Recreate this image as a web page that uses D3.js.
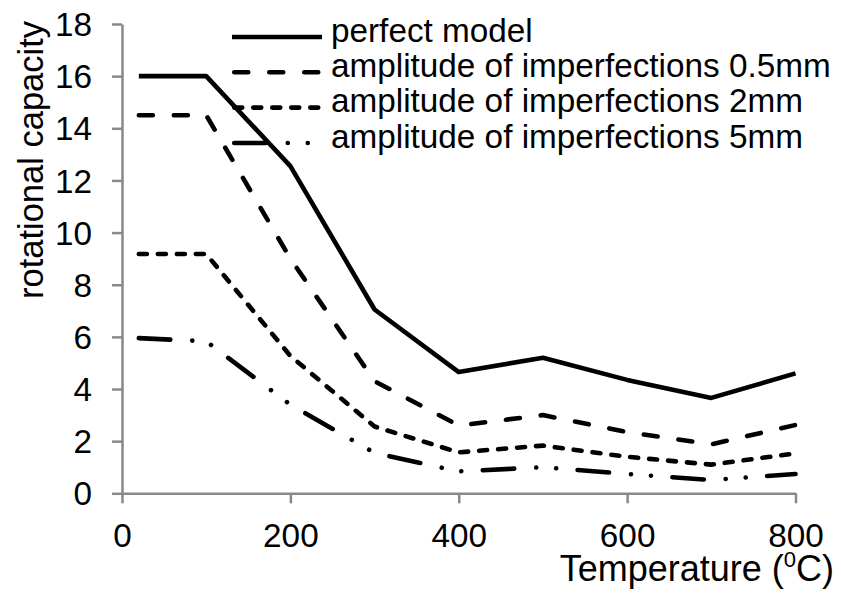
<!DOCTYPE html>
<html>
<head>
<meta charset="utf-8">
<script src="https://cdn.jsdelivr.net/npm/d3@7"></script>
<style>
  html, body { margin: 0; padding: 0; background: #fff; }
  svg { display: block; font-family: "Liberation Sans", Arial, sans-serif; }
</style>
</head>
<body>
<svg id="chart" width="841" height="594"></svg>
<script>
// ---- data ----
const temps = [20, 100, 200, 300, 400, 500, 600, 700, 800];
const perfectModel = [16, 16, 12.55, 7.05, 4.65, 5.2, 4.35, 3.66, 4.6];
const amp05 = [14.5, 14.5, 9.0, 4.3, 2.6, 3.0, 2.35, 1.88, 2.62];
const amp2 = [9.18, 9.18, 5.27, 2.56, 1.57, 1.83, 1.4, 1.1, 1.53];
const amp5 = [5.95, 5.83, 3.4, 1.55, 0.84, 1.0, 0.74, 0.51, 0.74];
const seriesNames = ["perfect model", "amplitude of imperfections 0.5mm", "amplitude of imperfections 2mm", "amplitude of imperfections 5mm"];
const xTicks = [0, 200, 400, 600, 800];
const yTicks = [0, 2, 4, 6, 8, 10, 12, 14, 16, 18];

// ---- styles ----
const dashes = [null, "14,21", "8,11", "31.5,22,0.01,20,0.01,21.5"];
const seriesValues = [perfectModel, amp05, amp2, amp5];

const svg = d3.select("#chart");
const x = d3.scaleLinear().domain([0, 800]).range([122, 795.5]);
const y = d3.scaleLinear().domain([0, 18]).range([493.3, 24]);
const axisColor = "#898989";
const fontSize = 33.3;

// y axis
const gy = svg.append("g").attr("transform", "translate(122,0)")
  .call(d3.axisLeft(y).tickValues(yTicks).tickSize(10).tickSizeOuter(0).tickFormat(d3.format("d")));
gy.select(".domain").attr("stroke", axisColor).attr("stroke-width", 2.5);
gy.selectAll(".tick line").attr("stroke", axisColor).attr("stroke-width", 2.5);
gy.selectAll(".tick text").attr("x", -30).attr("dy", "0.35em")
  .attr("font-size", fontSize).attr("fill", "#000").attr("font-family", "Liberation Sans, Arial, sans-serif");

// x axis
const gx = svg.append("g").attr("transform", "translate(0,493.3)")
  .call(d3.axisBottom(x).tickValues(xTicks).tickSize(10).tickSizeOuter(0).tickFormat(d3.format("d")));
gx.select(".domain").attr("stroke", axisColor).attr("stroke-width", 2.5);
gx.selectAll(".tick line").attr("stroke", axisColor).attr("stroke-width", 2.5);
gx.selectAll(".tick text").attr("y", 53.4).attr("dy", null)
  .attr("font-size", fontSize).attr("fill", "#000").attr("font-family", "Liberation Sans, Arial, sans-serif");

// lines
const line = d3.line().x(d => x(d[0])).y(d => y(d[1]));
seriesValues.forEach((vals, i) => {
  const pts = temps.map((t, j) => [t, vals[j]]);
  svg.append("path")
    .attr("d", line(pts))
    .attr("fill", "none")
    .attr("stroke", "#000")
    .attr("stroke-width", 4.6)
    .attr("stroke-linecap", i === 0 ? "butt" : "round")
    .attr("stroke-linejoin", "round")
    .attr("stroke-dasharray", dashes[i]);
});

// legend
const legendY = [37, 72.3, 107.6, 143];
seriesNames.forEach((name, i) => {
  const g = svg.append("g");
  g.append("line")
    .attr("x1", i === 0 ? 232 : 234.25).attr("x2", i === 0 ? 322 : 319.75)
    .attr("y1", legendY[i]).attr("y2", legendY[i])
    .attr("stroke", "#000").attr("stroke-width", 4.6)
    .attr("stroke-linecap", i === 0 ? "butt" : "round")
    .attr("stroke-dasharray", dashes[i]);
  g.append("text")
    .attr("x", 331).attr("y", legendY[i] + 4.8)
    .attr("font-size", fontSize).attr("fill", "#000")
    .text(name);
});

// axis titles
const xt = svg.append("text")
  .attr("x", 834).attr("y", 581)
  .attr("text-anchor", "end")
  .attr("font-size", 36).attr("fill", "#000");
xt.append("tspan").text("Temperature (");
xt.append("tspan").attr("font-size", 22).attr("dy", -14).text("0");
xt.append("tspan").attr("dy", 14).text("C)");

svg.append("text")
  .attr("transform", "translate(43,160) rotate(-90)")
  .attr("text-anchor", "middle")
  .attr("font-size", 34.5).attr("fill", "#000")
  .text("rotational capacity");
</script>
</body>
</html>
